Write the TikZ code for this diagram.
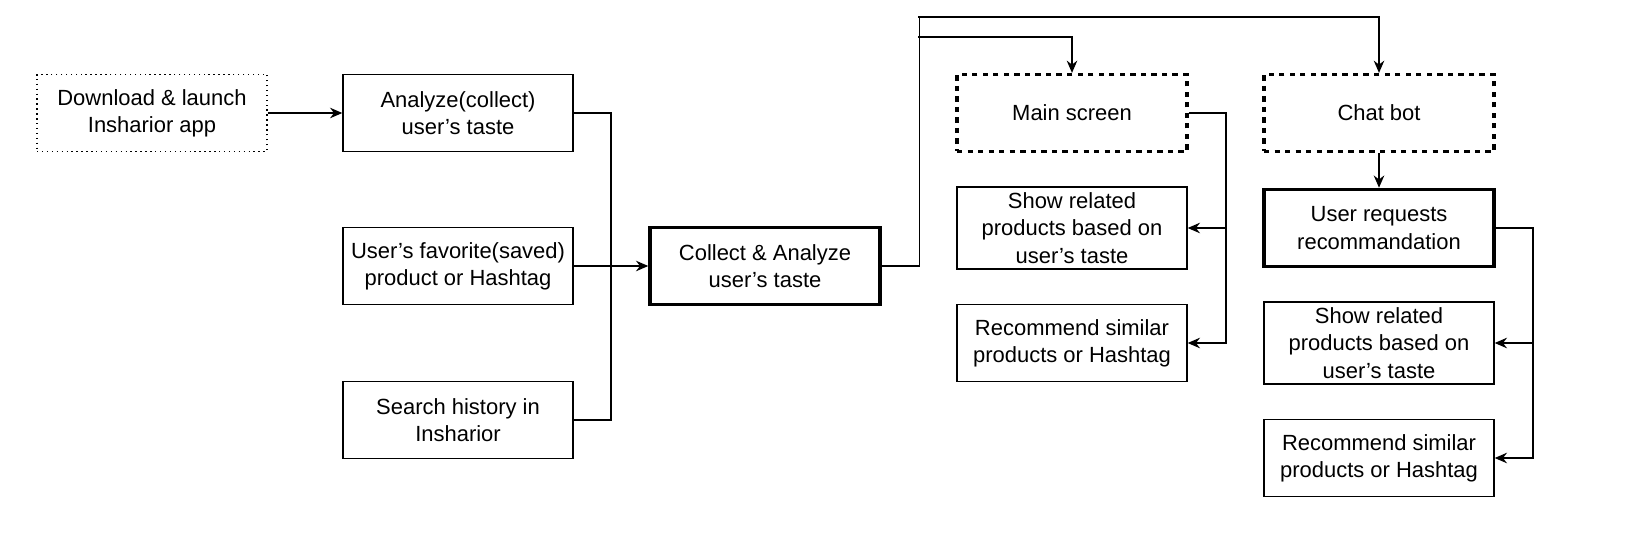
\documentclass[tikz,border=0pt]{standalone}
\usepackage{fontspec}
\setmainfont{Liberation Sans}
\usetikzlibrary{arrows.meta}

\begin{document}
\begin{tikzpicture}[x=0.02cm, y=-0.02cm,
    box/.style={draw, line width=0.8pt, minimum width=4.6cm, minimum height=1.54cm, align=center, font=\fontsize{12.5}{15.5}\selectfont},
    arr/.style={-{Stealth[length=7pt,width=6pt]}, line width=0.8pt},
    ln/.style={line width=0.8pt}]

    \useasboundingbox (0,0) rectangle (1635,555);

    % Input boxes
    \node[box, dotted, line width=1pt] (download) at (152,113) {Download \& launch\\Insharior app};
    \node[box] (analyze) at (458,113) {Analyze(collect)\\user's taste};
    \node[box] (favorite) at (458,266) {User's favorite(saved)\\product or Hashtag};
    \node[box] (search) at (458,420) {Search history in\\Insharior};
    \node[box, line width=2pt] (collect) at (765,266) {Collect \& Analyze\\user's taste};

    % Main screen branch
    \node[box, dashed, line width=1.8pt] (mainscr) at (1072,113) {Main screen};
    \node[box] (show1) at (1072,228) {Show related\\products based on\\user's taste};
    \node[box] (recom1) at (1072,343) {Recommend similar\\products or Hashtag};

    % Chat bot branch
    \node[box, dashed, line width=1.8pt] (chatbot) at (1379,113) {Chat bot};
    \node[box, line width=2pt] (request) at (1379,228) {User requests\\recommandation};
    \node[box] (show2) at (1379,343) {Show related\\products based on\\user's taste};
    \node[box] (recom2) at (1379,458) {Recommend similar\\products or Hashtag};

    % Junction points
    \coordinate (j1) at (611,266);
    \coordinate (j2) at (918,37);
    \coordinate (j3) at (1226,228);
    \coordinate (j4) at (1533,343);

    % Edges
    \draw[arr] (download) -- (analyze);
    \draw[ln] (analyze.east) -| (j1);
    \draw[ln] (search.east) -| (j1);
    \draw[arr] (favorite) -- (collect);
    \draw[arr] (collect.east) -- ++(38,0) |- (918,17) -| (chatbot.north);
    \draw[arr] (j2) -| (mainscr.north);
    \draw[arr] (mainscr.east) -| (j3) |- (recom1.east);
    \draw[arr] (j3) -- (show1.east);
    \draw[arr] (chatbot) -- (request);
    \draw[arr] (request.east) -| (j4) |- (recom2.east);
    \draw[arr] (j4) -- (show2.east);

\end{tikzpicture}
\end{document}
